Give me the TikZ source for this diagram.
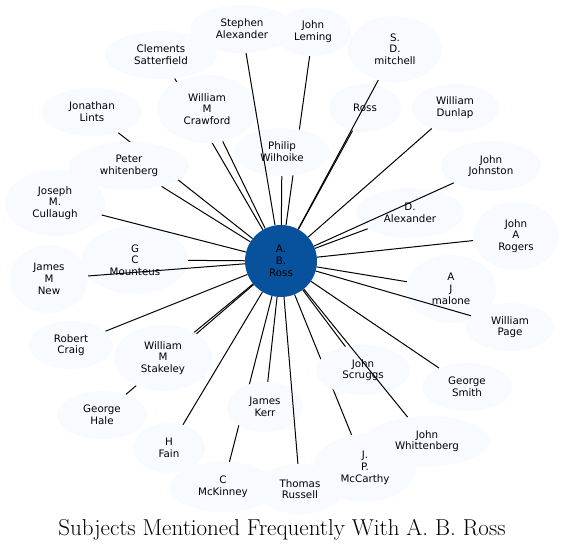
\documentclass[tikz,border=0pt]{standalone}
\usepackage{fontspec}
\newfontfamily\labelfont{DejaVu Sans}
\usetikzlibrary{shapes.geometric,backgrounds}
\definecolor{hubblue}{RGB}{8,81,156}
\definecolor{paleblue}{RGB}{247,251,255}

\begin{document}
\begin{tikzpicture}[
    x=1pt, y=-1pt,
    person/.style={ellipse, fill=paleblue, inner sep=0pt, align=center, font=\labelfont\fontsize{10.3}{11.7}\selectfont},
    hub/.style={circle, fill=hubblue, minimum size=72pt, inner sep=0pt, align=center, font=\labelfont\fontsize{10.3}{11.7}\selectfont},
    link/.style={line width=1pt, black}
  ]
    \useasboundingbox (0,0) rectangle (564,552);

    % outer ring of names
    \node[person, minimum width=76pt, minimum height=48pt] (leming) at (313,32) {John\\Leming};
    \node[person, minimum width=104pt, minimum height=48pt] (stephen) at (242,29) {Stephen\\Alexander};
    \node[person, minimum width=94pt, minimum height=66pt] (mitchell) at (395,49) {S.\\D.\\mitchell};
    \node[person, minimum width=112pt, minimum height=48pt] (clements) at (161,55) {Clements\\Satterfield};
    \node[person, minimum width=100pt, minimum height=68pt] (crawford) at (207,109) {William\\M\\Crawford};
    \node[person, minimum width=100pt, minimum height=48pt] (lints) at (92,112) {Jonathan\\Lints};
    \node[person, minimum width=72pt, minimum height=48pt] (rossnode) at (365,108) {Ross};
    \node[person, minimum width=88pt, minimum height=48pt] (dunlap) at (455,108) {William\\Dunlap};
    \node[person, minimum width=96pt, minimum height=48pt] (philip) at (282,152) {Philip\\Wilhoike};
    \node[person, minimum width=120pt, minimum height=48pt] (peter) at (129,166) {Peter\\whitenberg};
    \node[person, minimum width=100pt, minimum height=50pt] (johnston) at (491,166) {John\\Johnston};
    \node[person, minimum width=100pt, minimum height=66pt] (cullaugh) at (55,203) {Joseph\\M.\\Cullaugh};
    \node[person, minimum width=108pt, minimum height=50pt] (dalex) at (410,213) {D.\\Alexander};
    \node[person, minimum width=86pt, minimum height=68pt] (rogers) at (516,236) {John\\A\\Rogers};
    \node[person, minimum width=106pt, minimum height=68pt] (mounteus) at (135,260) {G\\C\\Mounteus};
    \node[person, minimum width=78pt, minimum height=68pt] (newnode) at (49,279) {James\\M\\New};
    \node[person, minimum width=90pt, minimum height=68pt] (malone) at (451,289) {A\\J\\malone};
    \node[person, minimum width=88pt, minimum height=48pt] (page) at (510,327) {William\\Page};
    \node[person, minimum width=84pt, minimum height=48pt] (craig) at (71,345) {Robert\\Craig};
    \node[person, minimum width=98pt, minimum height=66pt] (stakeley) at (163,358) {William\\M\\Stakeley};
    \node[person, minimum width=94pt, minimum height=50pt] (scruggs) at (363,370) {John\\Scruggs};
    \node[person, minimum width=90pt, minimum height=48pt] (smith) at (467,387) {George\\Smith};
    \node[person, minimum width=76pt, minimum height=50pt] (kerr) at (265,407) {James\\Kerr};
    \node[person, minimum width=90pt, minimum height=48pt] (hale) at (102,415) {George\\Hale};
    \node[person, minimum width=102pt, minimum height=68pt] (mccarthy) at (365,468) {J.\\P.\\McCarthy};
    \node[person, minimum width=126pt, minimum height=50pt] (whittenberg) at (427,441) {John\\Whittenberg};
    \node[person, minimum width=72pt, minimum height=50pt] (fain) at (169,448) {H\\Fain};
    \node[person, minimum width=106pt, minimum height=50pt] (mckinney) at (223,487) {C\\McKinney};
    \node[person, minimum width=88pt, minimum height=50pt] (russell) at (300,489) {Thomas\\Russell};

    % centre
    \node[hub] (hub) at (281,261) {A.\\B.\\Ross};

    % links that pass behind another name
    \begin{pgfonlayer}{background}
      \foreach \n in {clements,lints,leming,hale,mckinney,mccarthy}
        \draw[link] (hub) -- (\n);
    \end{pgfonlayer}

    % links drawn over the names
    \foreach \n in {stephen,mitchell,crawford,rossnode,dunlap,philip,peter,johnston,cullaugh,dalex,rogers,mounteus,newnode,malone,page,craig,stakeley,scruggs,smith,kerr,whittenberg,fain,russell}
      \draw[link] (hub) -- (\n);

    \node[font=\fontsize{23}{27}\selectfont] (title) at (282,530) {Subjects Mentioned Frequently With A. B. Ross};
  \end{tikzpicture}
\end{document}
